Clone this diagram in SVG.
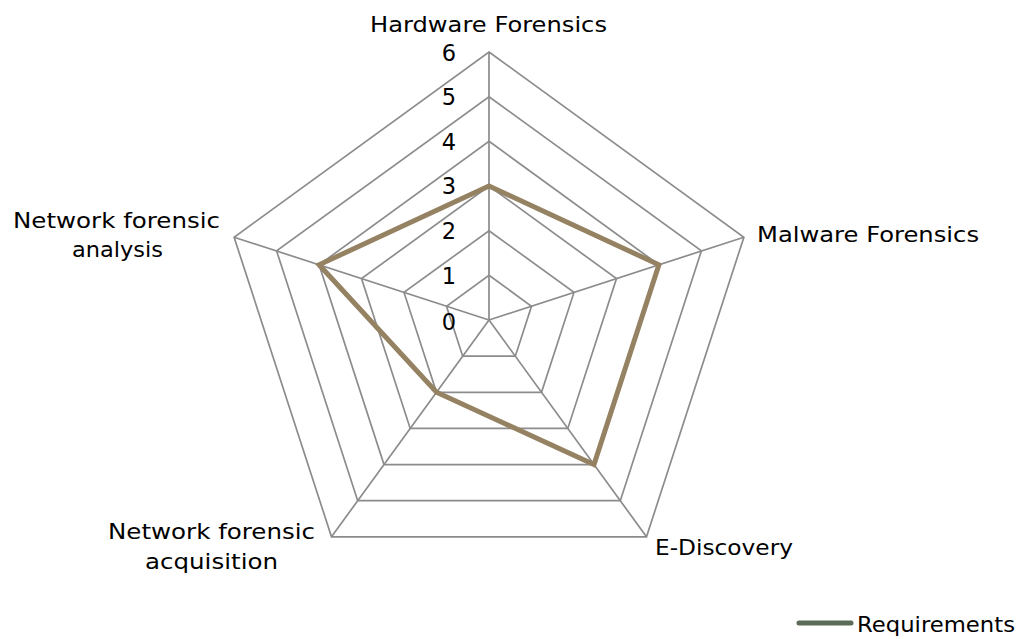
<svg xmlns="http://www.w3.org/2000/svg" width="1023" height="639" viewBox="0 0 1023 639">
<style>
.grid{fill:none;stroke:#8c8c8c;stroke-width:1.7}
.data{fill:none;stroke:#948262;stroke-width:5;stroke-linejoin:miter}
text{font-family:"DejaVu Sans",Verdana,sans-serif;font-size:21.5px;fill:#000}
.tick{text-anchor:end;font-size:22.5px}
</style>
<rect width="1023" height="639" fill="#fff"/>
<g id="grid">
<polygon class="grid" points="489,275.3 531.5,306.2 515.3,356.2 462.7,356.2 446.5,306.2"/>
<polygon class="grid" points="489,230.7 574,292.4 541.5,392.3 436.5,392.3 404,292.4"/>
<polygon class="grid" points="489,186 616.5,278.6 567.8,428.4 410.2,428.4 361.5,278.6"/>
<polygon class="grid" points="489,141.3 658.9,264.8 594,464.6 384,464.6 319.1,264.8"/>
<polygon class="grid" points="489,96.7 701.4,250.9 620.3,500.7 357.7,500.7 276.6,250.9"/>
<polygon class="grid" points="489,52 743.9,237.2 646.5,536.8 331.5,536.8 234.1,237.2"/>
<path class="grid" d="M489,320V52M489,320L743.9,237.2M489,320L646.5,536.8M489,320L331.5,536.8M489,320L234.1,237.2"/>
</g>
<g id="ticks">
<text class="tick" x="456" y="61">6</text>
<text class="tick" x="456" y="105">5</text>
<text class="tick" x="456" y="150">4</text>
<text class="tick" x="456" y="194">3</text>
<text class="tick" x="456" y="239">2</text>
<text class="tick" x="456" y="284">1</text>
<text class="tick" x="456" y="330">0</text>
</g>
<g id="connectors">
<polygon class="data" points="489,186 658.9,264.8 594,464.6 436.5,392.3 319.1,264.8"/>
</g>
<g id="node-hardware"><text x="370" y="32" textLength="237" lengthAdjust="spacingAndGlyphs">Hardware Forensics</text></g>
<g id="node-malware"><text x="757" y="242" textLength="222" lengthAdjust="spacingAndGlyphs">Malware Forensics</text></g>
<g id="node-ediscovery"><text x="655" y="555" textLength="138" lengthAdjust="spacingAndGlyphs">E-Discovery</text></g>
<g id="node-acquisition"><text x="108" y="539" textLength="207" lengthAdjust="spacingAndGlyphs">Network forensic</text><text x="145" y="569" textLength="133" lengthAdjust="spacingAndGlyphs">acquisition</text></g>
<g id="node-analysis"><text x="13" y="228" textLength="207" lengthAdjust="spacingAndGlyphs">Network forensic</text><text x="72" y="257" textLength="91" lengthAdjust="spacingAndGlyphs">analysis</text></g>
<g id="legend">
<line x1="799" y1="623" x2="851" y2="623" stroke="#5b6b58" stroke-width="5" stroke-linecap="round"/>
<text x="857" y="632" textLength="158" lengthAdjust="spacingAndGlyphs">Requirements</text>
</g>
</svg>
